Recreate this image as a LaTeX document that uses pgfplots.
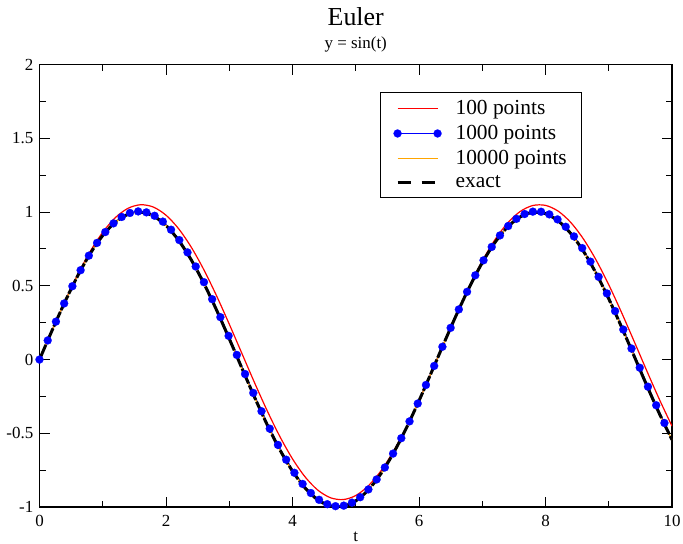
\documentclass[border=0pt]{standalone}
\usepackage{fontspec}
\setmainfont{Liberation Serif}
\usepackage{pgfplots}
\pgfplotsset{compat=1.18}
\definecolor{gorange}{RGB}{255,165,0}
\begin{document}
\begin{tikzpicture}
\begin{axis}[
  scale only axis,
  width=632.5bp, height=442.3bp,
  xmin=0, xmax=10, ymin=-1, ymax=2,
  xtick={0,2,4,6,8,10},
  xticklabels={0,2,4,6,8,10},
  ytick={-1,-0.5,0,0.5,1,1.5,2},
  yticklabels={-1,-0.5,0,0.5,1,1.5,2},
  minor x tick num=1, minor y tick num=1,
  tick align=inside,
  major tick length=10bp, minor tick length=6bp,
  every tick/.style={black, line width=1bp},
  axis line style={line width=1.2bp},
  ticklabel style={font=\fontsize{17}{20}\selectfont},
  xticklabel style={anchor=base, yshift=-19.7bp, inner sep=0pt},
  yticklabel style={anchor=east, xshift=-6bp, inner sep=0pt},
  legend style={
    at={(0.5383,0.9383)}, anchor=north west,
    draw=black, line width=1.2bp,
    font=\fontsize{21.5}{25}\selectfont,
    inner xsep=13bp, inner ysep=6bp,
    row sep=5.3bp, column sep=12bp,
  },
  legend cell align=left,
  legend image code/.code={\draw[#1] plot coordinates {(0bp,0bp) (40bp,0bp)};},
]
\coordinate (sw) at (rel axis cs:0,0);
\coordinate (ne) at (rel axis cs:1,1);
% 100 points (Euler, h = 0.1)
\addplot[red, line width=1.2bp, no marks, smooth] coordinates {
(0,0) (0.2,0.19951) (0.4,0.39305) (0.6,0.57290) (0.8,0.73192) (1.0,0.86375)
(1.2,0.96315) (1.4,1.02613) (1.6,1.05020) (1.8,1.03440) (2.0,0.97936)
(2.2,0.88726) (2.4,0.76177) (2.6,0.60791) (2.8,0.43182) (3.0,0.24050)
(3.2,0.04159) (3.4,-0.15699) (3.6,-0.34731) (3.8,-0.52180) (4.0,-0.67349)
(4.2,-0.79634) (4.4,-0.88544) (4.6,-0.93725) (4.8,-0.94971) (5.0,-0.92230)
(5.2,-0.85614) (5.4,-0.75385) (5.6,-0.61952) (5.8,-0.45849) (6.0,-0.27720)
(6.2,-0.08285) (6.4,0.11679) (6.6,0.31377) (6.8,0.50023) (7.0,0.66874)
(7.2,0.81259) (7.4,0.92602) (7.6,1.00455) (7.8,1.04501) (8.0,1.04582)
(8.2,1.00691) (8.4,0.92985) (8.6,0.81773) (8.8,0.67498) (9.0,0.50734)
(9.2,0.32144) (9.4,0.12474) (9.6,-0.07496) (9.8,-0.26966) (10.0,-0.45162)
};
\addlegendentry{100 points}
% 1000 points (Euler, h = 0.01), symbols every 13th point
\addplot[blue, line width=1.2bp, mark=*, mark size=4bp, mark options={solid, fill=blue, draw=blue, line width=0.2bp}] coordinates {
(0,0) (0.13,0.12967) (0.26,0.25725) (0.39,0.38057) (0.52,0.49754) (0.65,0.60621)
(0.78,0.70473) (0.91,0.79143) (1.04,0.86487) (1.17,0.92380) (1.30,0.96722)
(1.43,0.99440) (1.56,1.00489) (1.69,0.99849) (1.82,0.97534) (1.95,0.93581)
(2.08,0.88057) (2.21,0.81055) (2.34,0.72694) (2.47,0.63114) (2.60,0.52478)
(2.73,0.40965) (2.86,0.28769) (2.99,0.16095) (3.12,0.03159) (3.25,-0.09823)
(3.38,-0.22630) (3.51,-0.35047) (3.64,-0.46864) (3.77,-0.57882) (3.90,-0.67914)
(4.03,-0.76792) (4.16,-0.84365) (4.29,-0.90506) (4.42,-0.95112) (4.55,-0.98103)
(4.68,-0.99432) (4.81,-0.99073) (4.94,-0.97034) (5.07,-0.93349) (5.20,-0.88079)
(5.33,-0.81316) (5.46,-0.73172) (5.59,-0.63784) (5.72,-0.53311) (5.85,-0.41930)
(5.98,-0.29833) (6.11,-0.17225) (6.24,-0.04317) (6.37,0.08673) (6.50,0.21524)
(6.63,0.34021) (6.76,0.45951) (6.89,0.57158) (7.02,0.67323) (7.15,0.76403)
(7.28,0.84204) (7.41,0.90590) (7.54,0.95457) (7.67,0.98721) (7.80,1.00327)
(7.93,1.00249) (8.06,0.98487) (8.19,0.95073) (8.32,0.90061) (8.45,0.83539)
(8.58,0.75615) (8.71,0.66423) (8.84,0.56118) (8.97,0.44875) (9.10,0.32884)
(9.23,0.20346) (9.36,0.07472) (9.49,-0.05519) (9.62,-0.18407) (9.75,-0.30978)
(9.88,-0.43017)
};
\addlegendentry{1000 points}
% 10000 points
\addplot[gorange, line width=1.2bp, no marks, smooth] coordinates {
(0,0) (0.2,0.19867) (0.4,0.38942) (0.6,0.56464) (0.8,0.71736) (1.0,0.84147)
(1.2,0.93204) (1.4,0.98545) (1.6,0.99957) (1.8,0.97385) (2.0,0.90930)
(2.2,0.80850) (2.4,0.67546) (2.6,0.51550) (2.8,0.33499) (3.0,0.14112)
(3.2,-0.05837) (3.4,-0.25554) (3.6,-0.44252) (3.8,-0.61186) (4.0,-0.75680)
(4.2,-0.87158) (4.4,-0.95160) (4.6,-0.99369) (4.8,-0.99616) (5.0,-0.95892)
(5.2,-0.88345) (5.4,-0.77276) (5.6,-0.63127) (5.8,-0.46460) (6.0,-0.27942)
(6.2,-0.08309) (6.4,0.11655) (6.6,0.31154) (6.8,0.49411) (7.0,0.65699)
(7.2,0.79367) (7.4,0.89870) (7.6,0.96792) (7.8,0.99854) (8.0,0.98936)
(8.2,0.94073) (8.4,0.85460) (8.6,0.73440) (8.8,0.58492) (9.0,0.41212)
(9.2,0.22289) (9.4,0.02478) (9.6,-0.17433) (9.8,-0.36648) (10.0,-0.54402)
};
\addlegendentry{10000 points}
% exact
\addplot[black, line width=3bp, no marks, smooth, dash pattern=on 16bp off 2bp,
  legend image post style={dash pattern=on 13bp off 11bp}] coordinates {
(0,0) (0.2,0.19867) (0.4,0.38942) (0.6,0.56464) (0.8,0.71736) (1.0,0.84147)
(1.2,0.93204) (1.4,0.98545) (1.6,0.99957) (1.8,0.97385) (2.0,0.90930)
(2.2,0.80850) (2.4,0.67546) (2.6,0.51550) (2.8,0.33499) (3.0,0.14112)
(3.2,-0.05837) (3.4,-0.25554) (3.6,-0.44252) (3.8,-0.61186) (4.0,-0.75680)
(4.2,-0.87158) (4.4,-0.95160) (4.6,-0.99369) (4.8,-0.99616) (5.0,-0.95892)
(5.2,-0.88345) (5.4,-0.77276) (5.6,-0.63127) (5.8,-0.46460) (6.0,-0.27942)
(6.2,-0.08309) (6.4,0.11655) (6.6,0.31154) (6.8,0.49411) (7.0,0.65699)
(7.2,0.79367) (7.4,0.89870) (7.6,0.96792) (7.8,0.99854) (8.0,0.98936)
(8.2,0.94073) (8.4,0.85460) (8.6,0.73440) (8.8,0.58492) (9.0,0.41212)
(9.2,0.22289) (9.4,0.02478) (9.6,-0.17433) (9.8,-0.36648) (10.0,-0.54402)
};
\addlegendentry{exact}
\end{axis}
\path (sw) ++(316.25bp,-34.5bp) node[anchor=base, inner sep=0pt, font=\fontsize{17}{20}\selectfont] {t};
\path (ne) ++(-316.25bp,38.7bp) node[anchor=base, inner sep=0pt, font=\fontsize{26}{30}\selectfont] {Euler};
\path (ne) ++(-316.25bp,16.4bp) node[anchor=base, inner sep=0pt, font=\fontsize{17}{20}\selectfont] {y = sin(t)};
\pgfresetboundingbox
\path[use as bounding box] (sw) ++(-39.5bp,-37bp) rectangle ([xshift=11bp,yshift=64.7bp]ne);
\end{tikzpicture}
\end{document}
